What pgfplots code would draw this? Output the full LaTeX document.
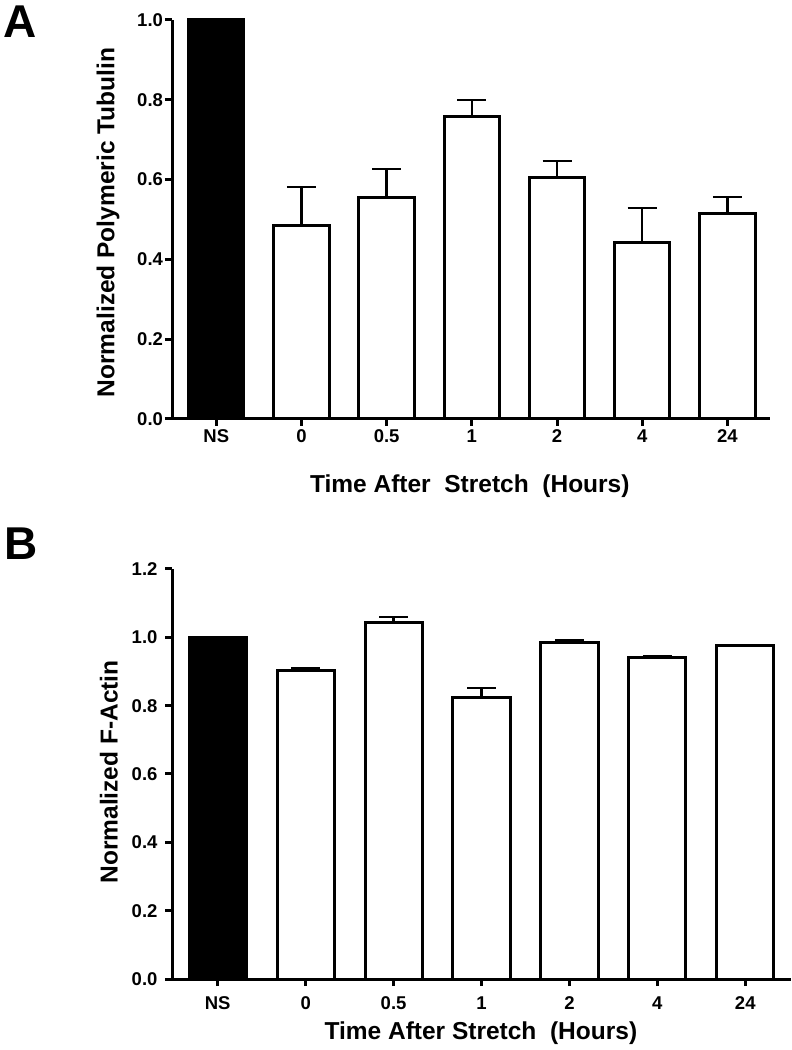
\documentclass[border=0pt]{standalone}
\usepackage{pgfplots}
\pgfplotsset{compat=1.18}
\usepackage{pgfplotstable}
\usepackage{fontspec}
\setmainfont{Liberation Sans}

\pgfplotstableread{
x y e
1 0.484 0.097
2 0.556 0.071
3 0.757 0.042
4 0.604 0.043
5 0.443 0.086
6 0.516 0.040
}\dataA

\pgfplotstableread{
x y e
1 0.904 0.006
2 1.042 0.018
3 0.825 0.027
4 0.986 0.006
5 0.942 0.003
6 0.975 0.003
}\dataB

\pgfplotsset{
  panel/.style={
    scale only axis,
    axis x line=bottom, axis y line=left,
    axis line style={-, line width=3pt, black},
    xtick={0,...,6}, xticklabels={NS,0,0.5,1,2,4,24},
    tick align=outside, major tick length=7pt,
    tick style={line width=3pt, black},
    ymin=0,
    ticklabel style={font=\bfseries\fontsize{18.5}{18.5}\selectfont},
    /pgf/number format/assume math mode=true,
    yticklabel style={/pgf/number format/fixed, /pgf/number format/fixed zerofill, /pgf/number format/precision=1},
    label style={font=\bfseries\fontsize{24.5}{24.5}\selectfont},
    clip=false,
  },
  whitebar/.style={
    ybar, bar width=0.65, fill=white, draw=black, line width=3pt,
    error bars/.cd, y dir=plus, y explicit,
    error bar style={line width=2.5pt, black},
    error mark options={rotate=90, mark size=14.5pt, line width=2.5pt, black},
  },
}

\begin{document}
\begin{tikzpicture}[x=1pt,y=1pt]
\path[use as bounding box] (0,0) rectangle (792,1050);

\node[font=\bfseries\fontsize{46}{46}\selectfont, anchor=center] at (20,1028) {A};
\node[font=\bfseries\fontsize{46}{46}\selectfont, anchor=center] at (21,506) {B};

% Panel A
\begin{axis}[panel,
  at={(172pt,631pt)}, anchor=south west,
  width=598pt, height=399pt,
  xmin=-0.52, xmax=6.5, ymax=1.0,
  ytick={0,0.2,...,1.0},
  yticklabel style={xshift=1.5pt},
  xlabel={Time After\ \ Stretch\ \ (Hours)},
  ylabel={Normalized Polymeric Tubulin},
  xlabel style={at={(axis description cs:0.498,-0.168)}, anchor=center},
  ylabel style={at={(axis description cs:-0.107,0.4925)}, anchor=center},
]
\addplot[ybar, bar width=0.65, fill=black, draw=black, line width=3pt] coordinates {(0,1.0)};
\addplot[whitebar] table[x=x, y=y, y error=e] {\dataA};
\end{axis}

% Panel B
\begin{axis}[panel,
  at={(172pt,71pt)}, anchor=south west,
  width=619pt, height=410pt,
  xmin=-0.52, xmax=6.52, ymax=1.2,
  ytick={0,0.2,...,1.2},
  yticklabel style={xshift=-4pt},
  xticklabel style={yshift=-7pt},
  xlabel={Time After Stretch\ \ (Hours)},
  ylabel={Normalized F-Actin},
  xlabel style={at={(axis description cs:0.499,-0.132)}, anchor=center},
  ylabel style={at={(axis description cs:-0.102,0.505)}, anchor=center},
]
\addplot[ybar, bar width=0.65, fill=black, draw=black, line width=3pt] coordinates {(0,1.0)};
\addplot[whitebar] table[x=x, y=y, y error=e] {\dataB};
\end{axis}
\end{tikzpicture}
\end{document}
